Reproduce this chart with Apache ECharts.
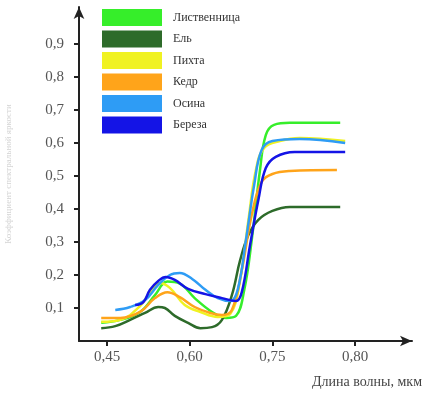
<!DOCTYPE html>
<html>
<head>
<meta charset="utf-8">
<script src="https://cdn.jsdelivr.net/npm/echarts@6/dist/echarts.min.js"></script>
<style>
  html, body { margin: 0; padding: 0; background: #fff; }
  #chart { width: 424px; height: 393px; }
</style>
</head>
<body>
<div id="chart"></div>
<script>
// x is the position along the axis in tick steps (0 = "0,45", 1 = "0,60", ...)
var xTickLabels = ['0,45', '0,60', '0,75', '0,80']
var yTicks = [0.1, 0.2, 0.3, 0.4, 0.5, 0.6, 0.7, 0.8, 0.9]
var names = ['Лиственница', 'Ель', 'Пихта', 'Кедр', 'Осина', 'Береза']
var colors = ['#36ee2a', '#2d6b2a', '#f0f222', '#ffa41a', '#2e9cf5', '#1414e6']

var larchX = [-0.07, 0.16, 0.40, 0.58, 0.73, 0.88, 1.06, 1.27, 1.44, 1.56, 1.66, 1.75, 1.85, 1.92, 2.02, 2.21, 2.82]
var larchY = [0.055, 0.064, 0.088, 0.139, 0.180, 0.174, 0.130, 0.088, 0.070, 0.076, 0.155, 0.306, 0.518, 0.624, 0.655, 0.661, 0.661]

var spruceX = [-0.07, 0.10, 0.28, 0.46, 0.62, 0.70, 0.82, 0.98, 1.13, 1.27, 1.39, 1.51, 1.61, 1.71, 1.83, 2.00, 2.21, 2.82]
var spruceY = [0.039, 0.045, 0.064, 0.085, 0.103, 0.100, 0.076, 0.055, 0.039, 0.042, 0.064, 0.139, 0.245, 0.321, 0.367, 0.394, 0.406, 0.406]

var firX = [-0.07, 0.16, 0.40, 0.54, 0.64, 0.76, 0.94, 1.13, 1.34, 1.49, 1.61, 1.71, 1.80, 1.90, 2.09, 2.33, 2.88]
var firY = [0.058, 0.064, 0.106, 0.155, 0.176, 0.161, 0.109, 0.088, 0.073, 0.082, 0.185, 0.367, 0.518, 0.585, 0.606, 0.615, 0.606]

var cedarX = [-0.07, 0.16, 0.40, 0.58, 0.73, 0.88, 1.06, 1.25, 1.39, 1.51, 1.63, 1.75, 1.87, 2.00, 2.21, 2.78]
var cedarY = [0.070, 0.070, 0.088, 0.130, 0.148, 0.133, 0.103, 0.085, 0.079, 0.094, 0.215, 0.382, 0.482, 0.506, 0.515, 0.518]

var aspenX = [0.10, 0.28, 0.46, 0.62, 0.76, 0.88, 1.03, 1.19, 1.34, 1.49, 1.58, 1.68, 1.78, 1.87, 2.00, 2.33, 2.88]
var aspenY = [0.094, 0.103, 0.124, 0.170, 0.200, 0.206, 0.188, 0.155, 0.130, 0.121, 0.155, 0.306, 0.473, 0.579, 0.606, 0.612, 0.600]

var birchX = [0.34, 0.44, 0.52, 0.62, 0.71, 0.82, 0.98, 1.19, 1.39, 1.56, 1.63, 1.73, 1.83, 1.92, 2.04, 2.27, 2.88]
var birchY = [0.109, 0.118, 0.155, 0.182, 0.194, 0.185, 0.158, 0.142, 0.130, 0.121, 0.148, 0.291, 0.427, 0.524, 0.558, 0.573, 0.573]

function pairs (xs, ys) {
  return xs.map(function (x, i) { return [x, ys[i]] })
}

var seriesData = [
  pairs(larchX, larchY),
  pairs(spruceX, spruceY),
  pairs(firX, firY),
  pairs(cedarX, cedarY),
  pairs(aspenX, aspenY),
  pairs(birchX, birchY)
]

var serif = '"Liberation Serif", "DejaVu Serif", serif'
var myChart = echarts.init(document.getElementById('chart'))

myChart.setOption({
  animation: false,
  grid: { left: 79, right: 12, top: 7, bottom: 52, outerBoundsMode: 'none' },
  legend: {
    data: names,
    orient: 'vertical',
    left: 102,
    top: 9,
    padding: 0,
    icon: 'rect',
    itemWidth: 60,
    itemHeight: 17,
    itemGap: 4.5,
    selectedMode: false,
    textStyle: { fontFamily: serif, fontSize: 12, color: '#333', padding: [0, 0, 0, 6] }
  },
  xAxis: {
    type: 'value',
    min: -0.3386,
    max: 3.688,
    splitLine: { show: false },
    axisLine: {
      onZero: false,
      symbol: ['none', 'arrow'],
      symbolSize: [8, 12],
      lineStyle: { color: '#222', width: 2 }
    },
    axisTick: {
      customValues: [0, 1, 2, 3],
      length: 5,
      lineStyle: { color: '#222', width: 2 }
    },
    axisLabel: {
      customValues: [0, 1, 2, 3],
      margin: 9,
      fontFamily: serif,
      fontSize: 15,
      color: '#555',
      formatter: function (v) { return xTickLabels[Math.round(v)] }
    }
  },
  yAxis: {
    type: 'value',
    min: 0,
    max: 1.012,
    name: 'Коэффициент спектральной яркости',
    nameLocation: 'middle',
    nameGap: 66,
    nameTextStyle: { fontFamily: serif, fontSize: 9, color: '#d4d4d4' },
    splitLine: { show: false },
    axisLine: {
      onZero: false,
      symbol: ['none', 'arrow'],
      symbolSize: [8, 12],
      lineStyle: { color: '#222', width: 2 }
    },
    axisTick: {
      customValues: yTicks,
      length: 5,
      lineStyle: { color: '#222', width: 2 }
    },
    axisLabel: {
      customValues: yTicks,
      margin: 15,
      fontFamily: serif,
      fontSize: 15,
      color: '#555',
      formatter: function (v) { return v.toFixed(1).replace('.', ',') }
    }
  },
  graphic: [{
    type: 'text',
    right: 2,
    top: 375,
    style: { text: 'Длина волны, мкм', font: '14px ' + serif, fill: '#444' }
  }],
  series: names.map(function (name, i) {
    return {
      name: name,
      type: 'line',
      data: seriesData[i],
      smooth: 0.4,
      showSymbol: false,
      color: colors[i],
      itemStyle: { color: colors[i] },
      lineStyle: { width: 2.5, color: colors[i] }
    }
  })
})
</script>
</body>
</html>
